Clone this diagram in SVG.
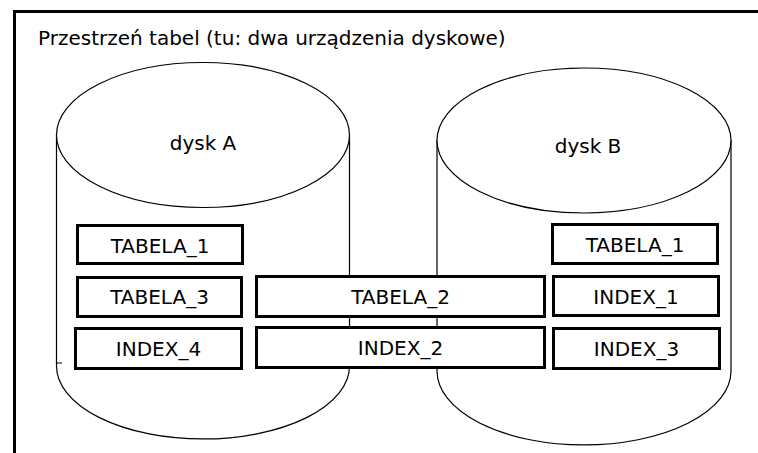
<svg xmlns="http://www.w3.org/2000/svg" width="758" height="453" viewBox="0 0 758 453">
<style>
text{font-family:"DejaVu Sans","Verdana",sans-serif;font-size:20px;fill:#000}
.lbl{text-anchor:middle}
.cyl{fill:#fff;stroke:#000;stroke-width:1.2}
.box rect{fill:#fff;stroke:#000;stroke-width:3}
.frame{fill:none;stroke:#000;stroke-width:3}
</style>
<rect width="758" height="453" fill="#fff"/>
<g id="frame">
<rect class="frame" x="14.5" y="11.5" width="760" height="460"/>
<text x="38" y="45">Przestrzeń tabel (tu: dwa urządzenia dyskowe)</text>
</g>
<g id="diskA">
<path class="cyl" d="M56.5,135 L56.5,366 A146.5,73 0 0 0 349.5,366 L349.5,135 Z"/>
<ellipse class="cyl" cx="203" cy="135" rx="146.5" ry="72.5"/>
<line x1="56.5" y1="363" x2="62" y2="363" stroke="#000" stroke-width="1"/>
<text class="lbl" x="203" y="150">dysk A</text>
</g>
<g id="diskB">
<path class="cyl" d="M437,140.5 L437,371 A147,74 0 0 0 731,371 L731,140.5 Z"/>
<ellipse class="cyl" cx="584" cy="140.5" rx="147" ry="72.5"/>
<text class="lbl" x="588" y="153">dysk B</text>
</g>
<g id="tabela1A" class="box"><rect x="77.5" y="225.5" width="165" height="38"/><text class="lbl" x="160" y="252.5">TABELA_1</text></g>
<g id="tabela3" class="box"><rect x="77.5" y="277.5" width="164" height="39"/><text class="lbl" x="159.5" y="304">TABELA_3</text></g>
<g id="index4" class="box"><rect x="75.5" y="328.5" width="166" height="40"/><text class="lbl" x="158.5" y="356">INDEX_4</text></g>
<g id="tabela2" class="box"><rect x="256.5" y="276.5" width="288" height="40"/><text class="lbl" x="400.5" y="304">TABELA_2</text></g>
<g id="index2" class="box"><rect x="256.5" y="327.5" width="288" height="40"/><text class="lbl" x="400.5" y="355">INDEX_2</text></g>
<g id="tabela1B" class="box"><rect x="552.5" y="224.5" width="165" height="39"/><text class="lbl" x="635" y="252">TABELA_1</text></g>
<g id="index1" class="box"><rect x="553.5" y="276.5" width="165" height="39"/><text class="lbl" x="636" y="304">INDEX_1</text></g>
<g id="index3" class="box"><rect x="553.5" y="328.5" width="166" height="40"/><text class="lbl" x="636.5" y="356">INDEX_3</text></g>
<g id="connectors"></g>
</svg>
